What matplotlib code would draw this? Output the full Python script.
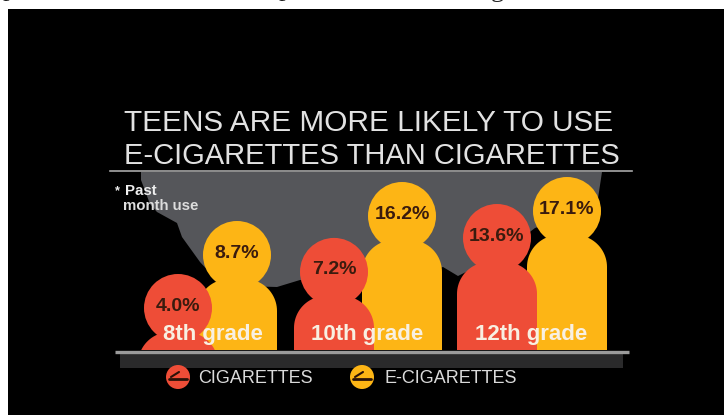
import numpy as np
import matplotlib
matplotlib.use("Agg")
import matplotlib.pyplot as plt
from matplotlib.patches import Circle, Polygon, Rectangle

plt.rcParams["font.family"] = ["Liberation Sans", "DejaVu Sans"]

# Survey results (percent, past month use)
grades = ["8th grade", "10th grade", "12th grade"]
cigarettes = [4.0, 7.2, 13.6]
e_cigarettes = [8.7, 16.2, 17.1]
series_names = ["CIGARETTES", "E-CIGARETTES"]
title_lines = ["TEENS ARE MORE LIKELY TO USE", "E-CIGARETTES THAN CIGARETTES"]

# Pictogram scale: percent -> figure height above the floor line
SCALE_PCT = [4.0, 8.7, 13.6, 16.2, 17.1]
SCALE_HEIGHT = [76, 129, 146, 168, 173]

RED, YELLOW, GRAY = "#EE4D37", "#FDB515", "#55565A"
FLOOR = 350
HEAD_R = 34
BODY_HALF = 40
SHOULDER = 32
NECK_DROP = 58

fig = plt.figure(figsize=(7.24, 4.15), dpi=100, facecolor="white")
ax = fig.add_axes([0, 0, 1, 1])
ax.set_xlim(0, 724)
ax.set_ylim(415, 0)
ax.axis("off")


def person(cx, value, color, z):
    top = FLOOR - np.interp(value, SCALE_PCT, SCALE_HEIGHT)
    head = Circle((cx, top + HEAD_R), HEAD_R, fc=color, ec="none", zorder=z)
    ax.add_patch(head)
    shoulder_y = top + NECK_DROP
    t = np.linspace(np.pi, 1.5 * np.pi, 24)
    left = np.c_[cx - BODY_HALF + SHOULDER + SHOULDER * np.cos(t),
                 shoulder_y + SHOULDER + SHOULDER * np.sin(t)]
    right = np.c_[2 * cx - left[::-1, 0], left[::-1, 1]]
    outline = np.vstack([[[cx - BODY_HALF, FLOOR + 60]], left, right, [[cx + BODY_HALF, FLOOR + 60]]])
    body = Polygon(outline, closed=True, fc=color, ec="none", zorder=z)
    ax.add_patch(body)
    body.set_clip_path(Rectangle((0, 0), 724, FLOOR, transform=ax.transData))
    ax.text(cx, top + HEAD_R - 2, f"{value:.1f}%", ha="center", va="center",
            fontsize=14, fontweight="bold", color="#3A1B0E", zorder=z + 0.5)


# Stage: black panel, gray backdrop and floor
ax.add_patch(Rectangle((8, 9), 716, 406, fc="black", ec="none", zorder=0))
backdrop = [(141, 172), (141, 180), (150, 204), (157, 212), (177, 223), (182, 237),
            (200, 262), (212, 275), (240, 286), (277, 287), (300, 280), (340, 284),
            (362, 291), (400, 280), (443, 267), (458, 276), (500, 255), (535, 228),
            (575, 215), (597, 205), (602, 172)]
ax.add_patch(Polygon(backdrop, closed=True, fc=GRAY, ec="none", zorder=1))
ax.add_patch(Rectangle((120, 354), 503, 14, fc="#2A2A2B", ec="none", zorder=1))

# Fragments of the page text running above the panel
for x, ch in [(9, "p"), (285, "p"), (497, "g")]:
    ax.text(x, -4 if ch == "p" else -3.5, ch, family="Liberation Serif", fontsize=19, color="#222222",
            ha="center", va="baseline", clip_on=True, zorder=0.5)

# Figures, yellow behind red within each group
red_x = [178, 334, 497]
yellow_x = [237, 402, 567]
for i in range(len(grades)):
    person(yellow_x[i], e_cigarettes[i], YELLOW, 3)
    person(red_x[i], cigarettes[i], RED, 4)

grade_x = [213, 367.5, 531]
for x, g in zip(grade_x, grades):
    ax.text(x, 334, g, ha="center", va="center", fontsize=16, fontweight="bold",
            color="#F8F0E2", zorder=6)

ax.plot([115, 629], [352, 352], color="#9B9B9B", lw=2.4, solid_capstyle="butt", zorder=5)

# Title and rule
ax.text(124, 131, title_lines[0], fontsize=21.4, color="#E2E2E2", va="baseline", zorder=6)
ax.text(124, 164, title_lines[1], fontsize=21.0, color="#E2E2E2", va="baseline", zorder=6)
ax.plot([110, 632], [171.5, 171.5], color="#A8A8A8", lw=1.2, zorder=6)

# Footnote
ax.text(115, 194, "*", fontsize=9, fontweight="bold", color="#EEEEEE", zorder=6)
ax.text(125, 195, "Past", fontsize=10.8, fontweight="bold", color="#EEEEEE", zorder=6)
ax.text(123, 210, "month use", fontsize=10.8, fontweight="bold", color="#DDDDDD", zorder=6)

# Legend with cigarette icons
for cx, tx, col, name in [(178, 198, RED, series_names[0]), (362, 385, YELLOW, series_names[1])]:
    ax.add_patch(Circle((cx, 377), 12, fc=col, ec="none", zorder=3))
    ax.plot([cx - 9, cx + 9], [379, 379], color="#2A1208", lw=2, solid_capstyle="round", zorder=4)
    ax.plot([cx - 7, cx + 1], [377, 372], color="#2A1208", lw=1.5, solid_capstyle="round", zorder=4)
    ax.text(tx, 383, name, fontsize=13, color="#DADADA", va="baseline", zorder=4)

fig.savefig("out.png", dpi=100, facecolor="white")
